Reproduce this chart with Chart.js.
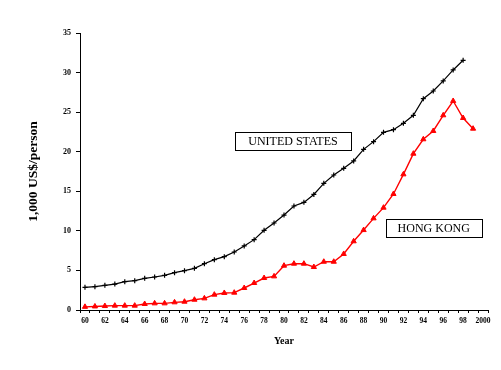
<!DOCTYPE html>
<html>
<head>
<meta charset="utf-8">
<style>
html,body{margin:0;padding:0;background:#fff;}
canvas{display:block;}
</style>
<script src="https://cdn.jsdelivr.net/npm/chart.js@4/dist/chart.umd.min.js"></script>
</head>
<body>
<canvas id="c" width="501" height="370"></canvas>
<script>
const years = ["60","61","62","63","64","65","66","67","68","69","70","71","72","73","74","75","76","77","78","79","80","81","82","83","84","85","86","87","88","89","90","91","92","93","94","95","96","97","98","99","2000"];
const yearTickLabels = ["60","62","64","66","68","70","72","74","76","78","80","82","84","86","88","90","92","94","96","98","2000"];
const unitedStates = [2.87,2.95,3.12,3.28,3.58,3.71,4.0,4.17,4.38,4.72,4.97,5.26,5.85,6.36,6.74,7.33,8.09,8.89,10.07,10.99,12.0,13.14,13.6,14.6,16.0,17.06,17.9,18.83,20.3,21.27,22.45,22.79,23.59,24.6,26.7,27.67,28.94,30.33,31.55,null,null];
const hongKong = [0.4,0.45,0.5,0.55,0.55,0.55,0.76,0.84,0.84,0.97,1.05,1.30,1.47,1.94,2.15,2.19,2.78,3.41,4.04,4.25,5.6,5.85,5.85,5.43,6.1,6.1,7.08,8.68,10.1,11.58,12.93,14.66,17.14,19.75,21.57,22.62,24.6,26.41,24.26,22.91,null];
const seriesNames = ["UNITED STATES","HONG KONG"];
const labelAnchors = [{x:20.9,y:21.35,w:116,h:18},{x:35.05,y:10.42,w:96,h:18}];

const boxLabels = {
  id:'boxLabels',
  afterDatasetsDraw(chart){
    const {ctx, scales:{x,y}} = chart;
    ctx.save();
    labelAnchors.forEach((a,i)=>{
      const cx = x.getPixelForValue(a.x), cy = y.getPixelForValue(a.y);
      const l = Math.round(cx - a.w/2)+0.5, t = Math.round(cy - a.h/2)+0.5;
      ctx.fillStyle='#fff';
      ctx.fillRect(l,t,a.w,a.h);
      ctx.strokeStyle='#000'; ctx.lineWidth=1;
      ctx.strokeRect(l,t,a.w,a.h);
      ctx.fillStyle='#000';
      ctx.font='12px "Liberation Serif", serif';
      ctx.textAlign='center'; ctx.textBaseline='middle';
      ctx.fillText(seriesNames[i], cx, cy+1);
    });
    ctx.restore();
  }
};

new Chart(document.getElementById('c'), {
  type:'line',
  data:{
    labels:years,
    datasets:[
      {label:seriesNames[0], data:unitedStates, borderColor:'#000', backgroundColor:'#000', borderWidth:1.2,
       pointStyle:'cross', pointRadius:2.5, pointBorderWidth:1.2, tension:0, spanGaps:false},
      {label:seriesNames[1], data:hongKong, borderColor:'#ff0000', backgroundColor:'#ff0000', borderWidth:1.4,
       pointStyle:'triangle', pointRadius:3, pointBorderWidth:1, tension:0, spanGaps:false}
    ]
  },
  options:{
    responsive:false, animation:false, devicePixelRatio:1,
    layout:{padding:{left:0,right:13,top:33,bottom:0}},
    plugins:{legend:{display:false}, tooltip:{enabled:false}},
    scales:{
      x:{
        type:'category', offset:true,
        grid:{display:true, offset:true, drawOnChartArea:false, drawTicks:true, tickLength:3, color:'#000'},
        border:{display:true, color:'#000', width:1},
        ticks:{autoSkip:false, maxRotation:0, minRotation:0, padding:4, color:'#000',
          font:{family:'"Liberation Serif", serif', size:7.5, weight:'bold'},
          callback:(v,i)=> i%2===0 ? yearTickLabels[i/2] : ''},
        title:{display:true, text:'Year', color:'#000', padding:{top:0,bottom:23},
          font:{family:'"Liberation Serif", serif', size:10, weight:'bold'}},
        afterFit(s){ s.height = 60; }
      },
      y:{
        min:0, max:35,
        grid:{display:true, drawOnChartArea:false, drawTicks:true, tickLength:4, color:'#000'},
        border:{display:true, color:'#000', width:1},
        ticks:{stepSize:5, padding:5, color:'#000',
          font:{family:'"Liberation Serif", serif', size:8, weight:'bold'}},
        title:{display:true, text:'1,000 US$/person', color:'#000', padding:{top:25,bottom:0},
          font:{family:'"Liberation Serif", serif', size:13.5, weight:'bold'}},
        afterFit(s){ s.width = 80; }
      }
    }
  },
  plugins:[boxLabels]
});
</script>
</body>
</html>
